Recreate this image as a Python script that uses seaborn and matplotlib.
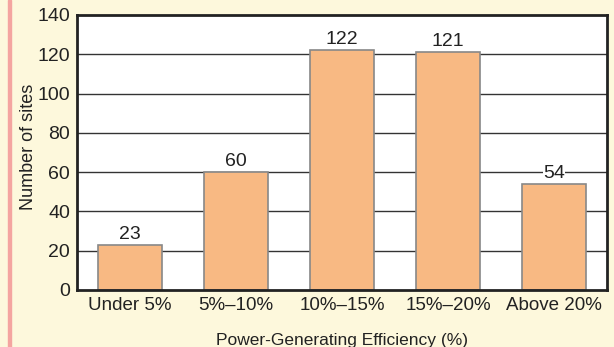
import matplotlib
matplotlib.use("Agg")
import matplotlib.pyplot as plt
import seaborn as sns
import pandas as pd
from matplotlib.patches import Rectangle

# Datos del gráfico
categories = ["Under 5%", "5%\u201310%", "10%\u201315%", "15%\u201320%", "Above 20%"]
sites = [23, 60, 122, 121, 54]
y_ticks = [0, 20, 40, 60, 80, 100, 120, 140]

BG = "#fdf8dc"
BAR = "#f8b983"

sns.set_theme(style="white")
plt.rcParams["font.family"] = ["Liberation Sans", "DejaVu Sans"]

df = pd.DataFrame({"cat": categories, "n": sites})

fig = plt.figure(figsize=(6.14, 3.47), dpi=100, facecolor=BG)
ax = fig.add_axes([0.1254, 0.1643, 0.8632, 0.7925])
ax.set_facecolor("white")

# Franja rosa a la izquierda
fig.patches.append(Rectangle((8 / 614, 0), 3 / 614, 1, transform=fig.transFigure,
                             color="#f4a5a0", zorder=0))

for t in y_ticks[1:-1]:
    ax.axhline(t, color="#333333", lw=1.0, zorder=1)

sns.barplot(data=df, x="cat", y="n", color=BAR, width=0.6, saturation=1,
            edgecolor="#888888", linewidth=1.2, ax=ax, zorder=2)

for i, v in enumerate(sites):
    ax.text(i, v + 1.0, str(v), ha="center", va="bottom", fontsize=14,
            color="#222222", zorder=3,
            bbox=dict(facecolor="white", edgecolor="none", pad=0.3))

ax.set_xlim(-0.5, 4.5)
ax.set_ylim(0, 140)
ax.set_yticks(y_ticks)
ax.tick_params(axis="y", labelsize=14, length=0, pad=5, colors="#222222")
ax.tick_params(axis="x", labelsize=13.5, length=0, pad=5, colors="#222222")
ax.set_xticks([0.5, 1.5, 2.5, 3.5], minor=True)
ax.tick_params(axis="x", which="minor", direction="in", length=5, width=1, color="#333333")

for s in ax.spines.values():
    s.set_color("#222222")
    s.set_linewidth(2)

ax.set_xlabel("Power-Generating Efficiency (%)", fontsize=12.5, color="#222222")
ax.xaxis.set_label_coords(0.5, -0.155)
ax.set_ylabel("Number of sites", fontsize=13, color="#222222")
ax.yaxis.set_label_coords(-0.075, 0.52)

fig.savefig("out.png", dpi=100, facecolor=BG)
